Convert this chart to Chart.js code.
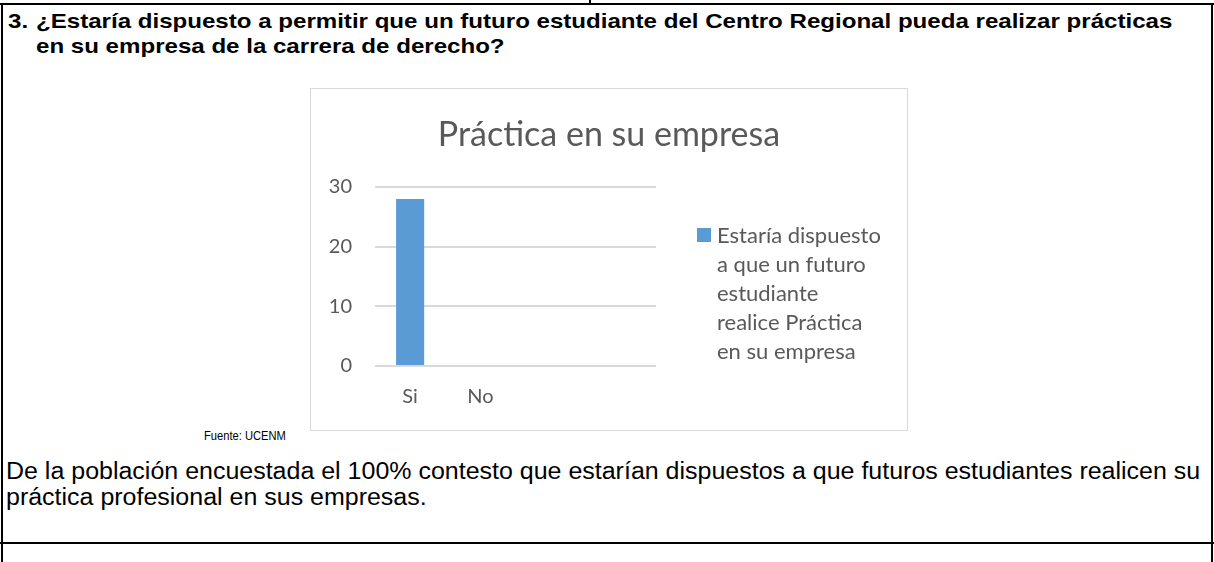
<!DOCTYPE html>
<html lang="es">
<head>
<meta charset="utf-8">
<title>Práctica en su empresa</title>
<script src="https://cdn.jsdelivr.net/npm/chart.js@4/dist/chart.umd.min.js"></script>
<style>
  html, body { margin:0; padding:0; background:#fff; }
  body { width:1214px; height:562px; position:relative; overflow:hidden; font-family:"Liberation Sans", Arial, sans-serif; color:#000; }
  .rule { position:absolute; background:#000; }
  .q { position:absolute; font-weight:bold; font-size:21px; line-height:25px; white-space:nowrap; transform-origin:0 50%; transform:scaleX(1.147); }
  .chart-box { position:absolute; left:310px; top:88px; width:598px; height:343px; border:1px solid #d9d9d9; box-sizing:border-box; }
  .chart-box canvas { display:block; }
  .fuente { position:absolute; left:204px; top:429px; font-size:12px; transform-origin:0 50%; transform:scaleX(0.93); }
  .body-text { position:absolute; left:6px; font-size:23px; line-height:26px; white-space:nowrap; transform-origin:0 50%; transform:scaleX(1.086); }
</style>
</head>
<body>

<!-- table frame -->
<div class="rule" style="left:0;top:3px;width:1214px;height:2px"></div>
<div class="rule" style="left:589px;top:0;width:2px;height:4px"></div>
<div class="rule" style="left:1px;top:3px;width:2px;height:559px"></div>
<div class="rule" style="left:1211px;top:3px;width:2px;height:559px"></div>
<div class="rule" style="left:0;top:542px;width:1214px;height:2px"></div>

<div class="q" style="left:8px;top:8px">3.</div>
<div class="q" style="left:36px;top:8px">¿Estaría dispuesto a permitir que un futuro estudiante del Centro Regional pueda realizar prácticas</div>
<div class="q" style="left:36px;top:33px">en su empresa de la carrera de derecho?</div>

<div class="chart-box"><canvas id="practicaChart" width="596" height="341"></canvas></div>

<div class="fuente">Fuente: UCENM</div>

<div class="body-text" style="top:458px">De la población encuestada el 100% contesto que estarían dispuestos a que futuros estudiantes realicen su</div>
<div class="body-text" style="top:484px">práctica profesional en sus empresas.</div>

<script>
// respuestas (las dos últimas columnas quedan vacías en el eje)
const categories = ["Si", "No", "", ""]
const respuestas = [28, 0, null, null]
const yTicks = [0, 10, 20, 30]

const chartTitle = "Práctica en su empresa"
const legendLines = ["Estaría dispuesto", "a que un futuro", "estudiante", "realice Práctica", "en su empresa"]

const GRAY = "#595959"
const BLUE = "#5b9bd5"
const FONT = "Lato, 'Open Sans', sans-serif"

/* title centred on the whole box, legend wrapped on the right */
const boxText = {
  id: "boxText",
  afterDraw(chart){
    const ctx = chart.ctx
    const ds = chart.data.datasets[0]
    ctx.save()

    ctx.fillStyle = GRAY
    ctx.font = "34px " + FONT
    ctx.textAlign = "center"
    ctx.textBaseline = "middle"
    ctx.fillText(chartTitle, chart.width / 2, 46)

    const x = 386
    const y0 = 147
    const step = 29
    ctx.fillStyle = ds.backgroundColor
    ctx.fillRect(x, y0 - 8, 14, 14)
    ctx.fillStyle = GRAY
    ctx.font = "22px " + FONT
    ctx.textAlign = "left"
    legendLines.forEach((line, i) => ctx.fillText(line, x + 20, y0 + i * step))

    ctx.restore()
  }
}

new Chart(document.getElementById("practicaChart"), {
  type: "bar",
  data: {
    labels: categories,
    datasets: [{
      label: legendLines.join(" "),
      data: respuestas,
      backgroundColor: BLUE,
      categoryPercentage: 1,
      barPercentage: 0.4
    }]
  },
  options: {
    responsive: false,
    animation: false,
    devicePixelRatio: 1,
    layout: { padding: { left: 0, right: 251, top: 98, bottom: 0 } },
    plugins: {
      legend: { display: false },
      tooltip: { enabled: false },
      title: { display: false }
    },
    scales: {
      x: {
        grid: { display: false, drawTicks: false },
        border: { display: false },
        ticks: { color: GRAY, font: { family: FONT, size: 20 }, padding: 19, maxRotation: 0 },
        afterFit(scale){ scale.height = 64 }
      },
      y: {
        min: 0,
        max: yTicks[yTicks.length - 1],
        afterBuildTicks(scale){ scale.ticks = yTicks.map(v => ({ value: v })) },
        grid: { color: "#d9d9d9", lineWidth: 2, drawTicks: false },
        border: { display: false },
        ticks: { color: GRAY, font: { family: FONT, size: 20 }, padding: 23 },
        afterFit(scale){ scale.width = 64 }
      }
    }
  },
  plugins: [boxText]
})
</script>
</body>
</html>
